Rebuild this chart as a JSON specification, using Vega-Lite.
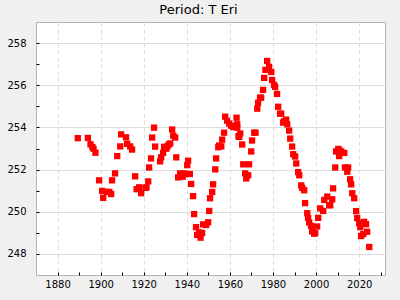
{
  "$schema": "https://vega.github.io/schema/vega-lite/v6.json",
  "autosize": "none",
  "width": 349,
  "height": 253,
  "padding": {"left": 36, "top": 22, "right": 15, "bottom": 25},
  "background": "#f0f0f0",
  "title": {"text": "Period: T Eri", "font": "DejaVu Sans", "fontSize": 13, "fontWeight": "normal", "color": "#000000", "baseline": "alphabetic", "offset": 7, "dx": -12, "dy": 12},
  "config": {
    "view": {"fill": "white", "stroke": "#b4b4b4"},
    "axis": {"labelFont": "DejaVu Sans", "labelFontSize": 10, "labelColor": "#000000", "domain": false, "tickColor": "#000000", "tickSize": -3, "gridColor": "#dddddd", "title": null}
  },
  "data": {"values": [
    {"year": 1889.4, "period": 253.49}, {"year": 1894.1, "period": 253.5}, {"year": 1895.3, "period": 253.2}, {"year": 1896.2, "period": 253.07},
    {"year": 1896.7, "period": 252.99}, {"year": 1897.6, "period": 252.8}, {"year": 1899.3, "period": 251.49}, {"year": 1900.7, "period": 250.99},
    {"year": 1901.2, "period": 250.66}, {"year": 1902.9, "period": 250.94}, {"year": 1904.0, "period": 250.94}, {"year": 1904.9, "period": 250.84},
    {"year": 1905.3, "period": 251.49}, {"year": 1906.7, "period": 251.82}, {"year": 1907.7, "period": 252.64}, {"year": 1909.1, "period": 253.1},
    {"year": 1909.5, "period": 253.67}, {"year": 1911.8, "period": 253.53}, {"year": 1912.3, "period": 253.22}, {"year": 1913.7, "period": 253.1},
    {"year": 1914.6, "period": 252.95}, {"year": 1916.0, "period": 251.68}, {"year": 1916.7, "period": 251.07}, {"year": 1917.9, "period": 251.16},
    {"year": 1918.8, "period": 250.88}, {"year": 1920.8, "period": 251.13}, {"year": 1921.3, "period": 251.16}, {"year": 1922.1, "period": 251.44},
    {"year": 1922.5, "period": 252.1}, {"year": 1923.4, "period": 252.53}, {"year": 1923.9, "period": 253.52}, {"year": 1924.8, "period": 253.99},
    {"year": 1925.3, "period": 253.09}, {"year": 1927.6, "period": 252.39}, {"year": 1928.1, "period": 252.58}, {"year": 1929.0, "period": 252.79},
    {"year": 1929.5, "period": 253.08}, {"year": 1930.5, "period": 252.99}, {"year": 1931.0, "period": 253.1}, {"year": 1931.6, "period": 253.19},
    {"year": 1932.3, "period": 253.24}, {"year": 1933.2, "period": 253.9}, {"year": 1933.7, "period": 253.61}, {"year": 1934.6, "period": 253.52},
    {"year": 1935.1, "period": 252.58}, {"year": 1936.0, "period": 251.63}, {"year": 1936.9, "period": 251.82}, {"year": 1937.5, "period": 251.74},
    {"year": 1938.1, "period": 251.66}, {"year": 1938.6, "period": 251.82}, {"year": 1939.6, "period": 251.79}, {"year": 1940.2, "period": 252.21},
    {"year": 1940.6, "period": 252.42}, {"year": 1941.4, "period": 251.79}, {"year": 1942.0, "period": 251.32}, {"year": 1942.9, "period": 250.74},
    {"year": 1943.4, "period": 249.89}, {"year": 1944.3, "period": 249.27}, {"year": 1944.8, "period": 248.9}, {"year": 1945.7, "period": 249.02},
    {"year": 1946.4, "period": 248.77}, {"year": 1947.1, "period": 248.99}, {"year": 1947.6, "period": 249.4}, {"year": 1949.0, "period": 249.37},
    {"year": 1949.9, "period": 249.5}, {"year": 1950.4, "period": 250.04}, {"year": 1950.8, "period": 250.64}, {"year": 1951.8, "period": 250.94},
    {"year": 1952.2, "period": 251.3}, {"year": 1953.2, "period": 252.01}, {"year": 1953.6, "period": 252.53}, {"year": 1954.6, "period": 253.06},
    {"year": 1955.0, "period": 253.14}, {"year": 1956.0, "period": 253.1}, {"year": 1956.4, "period": 253.42}, {"year": 1957.3, "period": 253.75},
    {"year": 1957.8, "period": 254.51}, {"year": 1958.7, "period": 254.32}, {"year": 1959.7, "period": 254.18}, {"year": 1960.6, "period": 254.08},
    {"year": 1961.5, "period": 254.02}, {"year": 1962.4, "period": 254.02}, {"year": 1963.1, "period": 254.46}, {"year": 1963.4, "period": 254.15},
    {"year": 1963.4, "period": 253.99}, {"year": 1964.0, "period": 253.59}, {"year": 1964.3, "period": 253.55}, {"year": 1964.8, "period": 253.71},
    {"year": 1965.7, "period": 253.19}, {"year": 1966.2, "period": 252.25}, {"year": 1967.1, "period": 251.82}, {"year": 1967.6, "period": 251.58},
    {"year": 1968.5, "period": 251.73}, {"year": 1968.9, "period": 252.25}, {"year": 1969.9, "period": 252.86}, {"year": 1970.3, "period": 253.38},
    {"year": 1971.3, "period": 253.75}, {"year": 1971.9, "period": 253.75}, {"year": 1972.7, "period": 254.89}, {"year": 1973.1, "period": 255.17},
    {"year": 1974.0, "period": 255.41}, {"year": 1974.5, "period": 255.41}, {"year": 1975.4, "period": 255.78}, {"year": 1975.9, "period": 256.35},
    {"year": 1976.5, "period": 256.73}, {"year": 1977.3, "period": 257.15}, {"year": 1978.2, "period": 256.87}, {"year": 1979.2, "period": 256.63},
    {"year": 1979.6, "period": 256.25}, {"year": 1980.5, "period": 256.02}, {"year": 1981.0, "period": 255.92}, {"year": 1981.9, "period": 255.59},
    {"year": 1982.4, "period": 254.98}, {"year": 1983.3, "period": 254.65}, {"year": 1983.8, "period": 254.65}, {"year": 1984.7, "period": 254.23},
    {"year": 1985.2, "period": 254.29}, {"year": 1986.1, "period": 254.37}, {"year": 1986.6, "period": 254.15}, {"year": 1987.5, "period": 253.85},
    {"year": 1988.0, "period": 253.47}, {"year": 1988.9, "period": 253.09}, {"year": 1989.4, "period": 252.73}, {"year": 1990.3, "period": 252.62},
    {"year": 1990.8, "period": 252.29}, {"year": 1991.7, "period": 251.88}, {"year": 1992.2, "period": 251.73}, {"year": 1993.1, "period": 251.25},
    {"year": 1993.6, "period": 251.13}, {"year": 1994.5, "period": 251.02}, {"year": 1994.9, "period": 250.41}, {"year": 1995.9, "period": 249.93},
    {"year": 1996.3, "period": 249.71}, {"year": 1996.8, "period": 249.49}, {"year": 1997.7, "period": 249.33}, {"year": 1998.2, "period": 249.07},
    {"year": 1999.1, "period": 248.96}, {"year": 1999.6, "period": 248.99}, {"year": 2000.5, "period": 249.3}, {"year": 2001.0, "period": 249.71},
    {"year": 2001.9, "period": 250.16}, {"year": 2003.3, "period": 250.04}, {"year": 2003.8, "period": 250.56}, {"year": 2005.2, "period": 250.72},
    {"year": 2006.1, "period": 250.31}, {"year": 2006.6, "period": 250.31}, {"year": 2007.5, "period": 250.59}, {"year": 2007.9, "period": 251.11},
    {"year": 2008.9, "period": 252.1}, {"year": 2009.3, "period": 252.86}, {"year": 2010.3, "period": 252.98}, {"year": 2010.7, "period": 252.64},
    {"year": 2010.8, "period": 252.92}, {"year": 2011.7, "period": 252.86}, {"year": 2013.1, "period": 252.79}, {"year": 2013.4, "period": 252.1},
    {"year": 2014.5, "period": 251.9}, {"year": 2014.9, "period": 252.1}, {"year": 2015.8, "period": 251.54}, {"year": 2016.3, "period": 251.3},
    {"year": 2016.8, "period": 250.88}, {"year": 2017.7, "period": 250.64}, {"year": 2018.6, "period": 250.03}, {"year": 2019.1, "period": 249.7},
    {"year": 2020.0, "period": 249.46}, {"year": 2020.5, "period": 249.27}, {"year": 2020.9, "period": 248.85}, {"year": 2021.9, "period": 248.94},
    {"year": 2022.3, "period": 249.52}, {"year": 2023.2, "period": 249.41}, {"year": 2023.7, "period": 249.05}, {"year": 2024.7, "period": 248.33}
  ]},
  "mark": {"type": "square", "size": 40, "color": "#ff0000", "opacity": 1, "filled": true},
  "encoding": {
    "x": {"field": "year", "type": "quantitative", "scale": {"domain": [1870, 2032], "nice": false, "zero": false},
      "axis": {"values": [1880, 1890, 1900, 1910, 1920, 1930, 1940, 1950, 1960, 1970, 1980, 1990, 2000, 2010, 2020, 2030],
        "labelExpr": "datum.value % 20 == 0 ? datum.label : ''", "format": "d", "labelPadding": 7, "labelFlush": false,
        "gridDash": [4, 3], "gridOpacity": {"condition": {"test": "datum.value % 20 == 0", "value": 1}, "value": 0}}},
    "y": {"field": "period", "type": "quantitative", "scale": {"domain": [247, 259], "nice": false, "zero": false},
      "axis": {"values": [248, 249, 250, 251, 252, 253, 254, 255, 256, 257, 258],
        "labelExpr": "datum.value % 2 == 0 ? datum.label : ''", "labelPadding": 13, "labelFlush": false,
        "gridOpacity": {"condition": {"test": "datum.value % 2 == 0", "value": 1}, "value": 0}}}
  }
}
